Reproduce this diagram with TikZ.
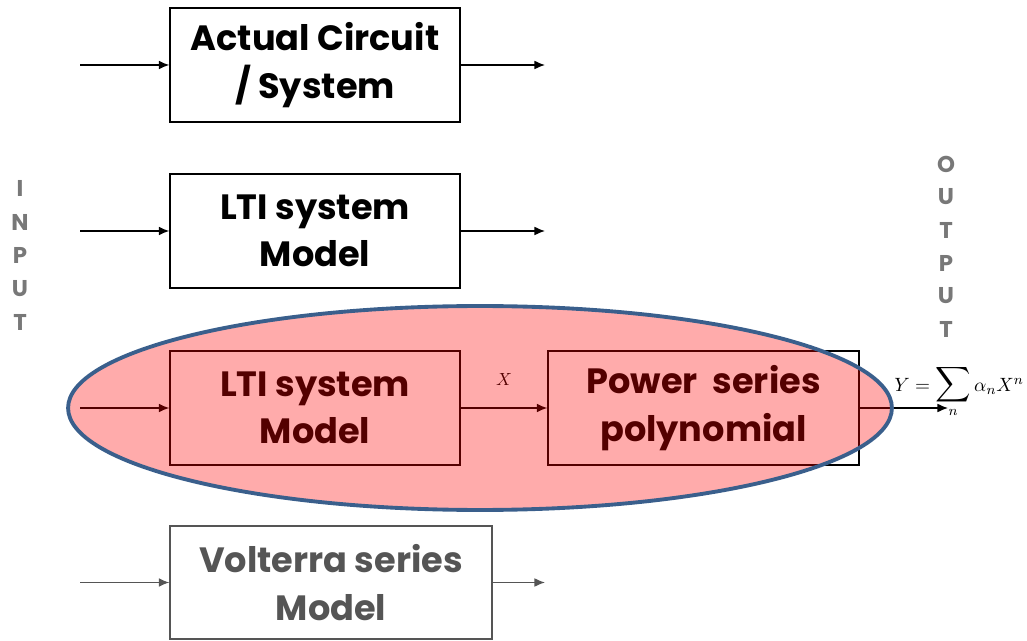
\documentclass[tikz,border=0pt]{standalone}
\usepackage{fontspec}
\setmainfont{Poppins}
\usetikzlibrary{arrows.meta,shapes.geometric}
\definecolor{ringblue}{RGB}{58,95,140}
\definecolor{lettergray}{RGB}{120,120,120}
\definecolor{blockgray}{RGB}{85,85,85}
\newcommand{\bigsum}{\mathop{\scalebox{1.4}{$\displaystyle\sum$}}\limits}
\begin{document}
\begin{tikzpicture}[
                x=0.02cm, y=-0.02cm,
                block/.style={draw,line width=0.8pt,inner sep=0pt,align=center,
                    font=\fontsize{20}{27}\selectfont\bfseries,
                    minimum width=5.8cm,minimum height=2.28cm},
                flow/.style={-{Latex[length=6pt,width=5pt]},line width=0.7pt},
                letter/.style={text=lettergray,font=\fontsize{13}{13}\selectfont\bfseries,inner sep=0pt}
            ]
            \useasboundingbox (0,0) rectangle (1027,641);

            % blocks
            \node[block] (actual) at (315,65) {Actual Circuit\\/ System};
            \node[block] (lti) at (315,231) {LTI system\\Model};
            \node[block] (ltib) at (315,408) {LTI system\\Model};
            \node[block,minimum width=6.22cm] (power) at (703.5,408) {Power\ \ series\\polynomial};
            \node[block,draw=blockgray,text=blockgray,minimum width=6.44cm,minimum height=2.26cm] (volterra) at (331,582.5) {Volterra series\\Model};

            % free ends
            \coordinate (in1) at (80,65);
            \coordinate (out1) at (545,65);
            \coordinate (in2) at (80,231);
            \coordinate (out2) at (545,231);
            \coordinate (in3) at (80,408);
            \coordinate (out3) at (948,408);
            \coordinate (in4) at (80,582.5);
            \coordinate (out4) at (545,582.5);

            \draw[flow] (in1) -- (actual);
            \draw[flow] (actual) -- (out1);
            \draw[flow] (in2) -- (lti);
            \draw[flow] (lti) -- (out2);
            \draw[flow] (in3) -- (ltib);
            \draw[flow] (ltib) -- node[above=9pt,font=\fontsize{10}{10}\selectfont] {$X$} (power);
            \draw[flow] (power) -- (out3);
            \draw[flow,draw=blockgray] (in4) -- (volterra);
            \draw[flow,draw=blockgray] (volterra) -- (out4);

            % highlight
            \node[ellipse,draw=ringblue,line width=2.2pt,fill=red,fill opacity=0.33,
                minimum width=16.48cm,minimum height=4.08cm] (ring) at (480,408) {};

            \node[anchor=west,inner sep=0pt,font=\fontsize{11}{12}\selectfont] (law) at (894,391)
                {$Y=\bigsum_n \alpha_n X^n$};

            % side labels
            \foreach \ch [count=\i] in {I,N,P,U,T}
                \node[letter] (in-\i) at (20,{155+33.5*\i}) {\ch};
            \foreach \ch [count=\i] in {O,U,T,P,U,T}
                \node[letter] (out-\i) at (946,{131+33*\i}) {\ch};

        \end{tikzpicture}
\end{document}
